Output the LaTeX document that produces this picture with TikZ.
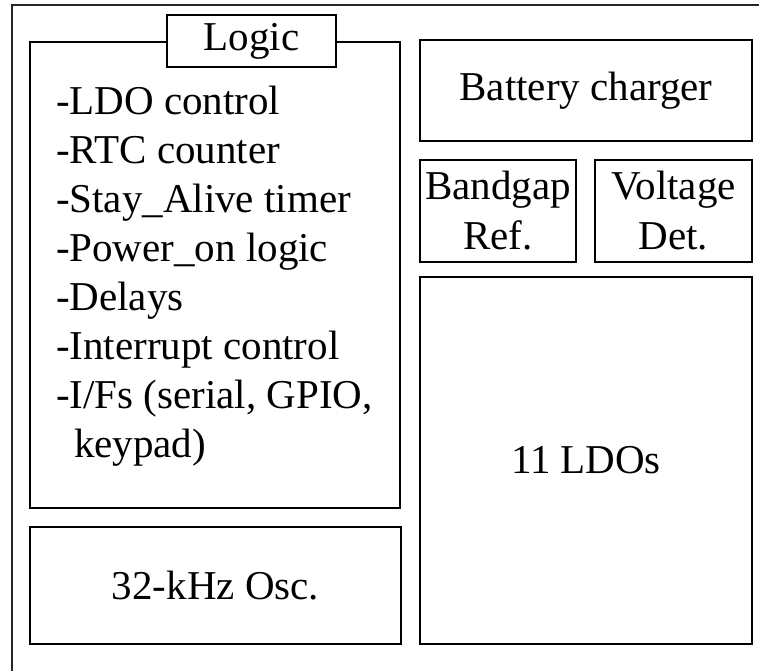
\documentclass[tikz,border=0pt]{standalone}
\usepackage{fontspec}
\setmainfont{Liberation Serif}
\usepackage{tikz}
\usetikzlibrary{positioning}
\tikzset{
    % Block styles
    block/.style={rectangle, draw, line width=1pt, inner sep=0pt, align=center,
                  font=\fontsize{20.5pt}{25pt}\selectfont},
    frame/.style={draw, line width=1pt, black!85},
}

\begin{document}
\begin{tikzpicture}[x=0.5pt, y=-0.5pt]
    \useasboundingbox (0,0) rectangle (759,670);
    \clip (0,0) rectangle (759,670);

    % Outer frame
    \draw[frame] (12,5) rectangle (775,690);

    % Logic
    \node[block, minimum width=185pt, minimum height=233pt] (logic) at (215,275) {};
    \node[block, fill=white, minimum width=84.5pt, minimum height=26pt] (logictitle) at (251.5,41) {Logic};
    \node[block, draw=none, align=left, anchor=base west,
          font=\fontsize{20.5pt}{24.45pt}\selectfont] (logiclist) at (55,457) {%
        -LDO control\\
        -RTC counter\\
        -Stay\_Alive timer\\
        -Power\_on logic\\
        -Delays\\
        -Interrupt control\\
        -I/Fs (serial, GPIO,\\
        \hspace*{9pt}keypad)};

    % Oscillator
    \node[block, minimum width=185.5pt, minimum height=58.5pt] (osc) at (215.5,585.5) {32-kHz Osc.};

    % Right column
    \node[block, minimum width=166pt, minimum height=50.5pt] (charger) at (586,90.5) {Battery charger};
    \node[block, minimum width=78pt, minimum height=51pt] (bandgap) at (498,211) {Bandgap\\Ref.};
    \node[block, minimum width=78.5pt, minimum height=51pt] (vdet) at (673.5,211) {Voltage\\Det.};
    \node[block, minimum width=166pt, minimum height=183.5pt] (ldos) at (586,460.5) {11 LDOs};
\end{tikzpicture}
\end{document}
